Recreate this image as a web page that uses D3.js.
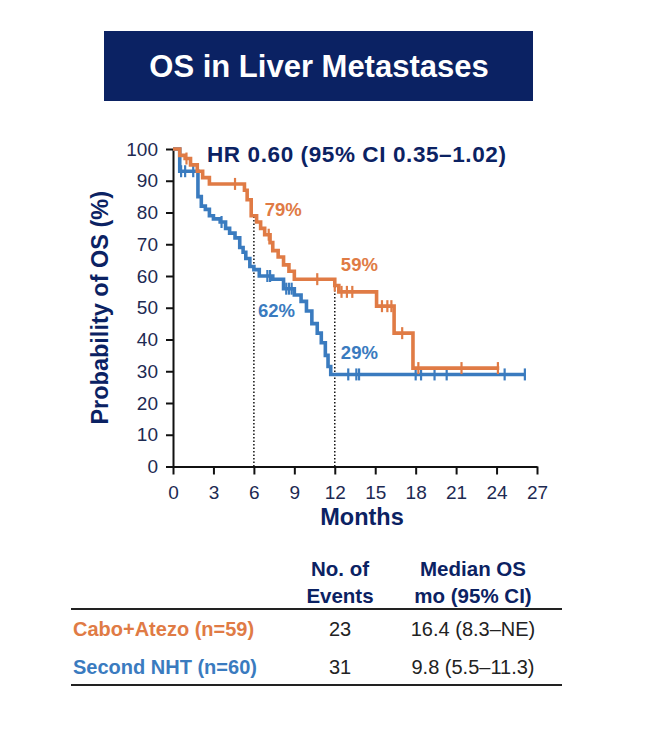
<!DOCTYPE html>
<html>
<head>
<meta charset="utf-8">
<script src="https://cdn.jsdelivr.net/npm/d3@7"></script>
<style>
  body { margin: 0; background: #fff; }
  svg { display: block; font-family: "Liberation Sans", Arial, sans-serif; }
</style>
</head>
<body>
<div id="chart"></div>
<script>
// KM curves: [month, survival %] at each step
const caboSteps = [
  [0, 100], [0.5, 98], [0.9, 97], [1.3, 95], [1.8, 93], [2.2, 91], [2.7, 89],
  [5.3, 87], [5.5, 84], [5.8, 79], [6.2, 77], [6.5, 75], [6.8, 73], [7.2, 70.5],
  [7.4, 68], [7.8, 66], [8.2, 63.5], [8.6, 61.5], [9.0, 59], [12.0, 57], [12.3, 55],
  [15.1, 50.5], [16.4, 42], [17.8, 31], [24.2, 31]
];
const caboCensor = [1.0, 4.6, 7.1, 10.7, 12.0, 12.5, 12.9, 13.3, 15.5, 15.9, 16.2, 17.0, 18.2, 21.4, 24.1];

const nhtSteps = [
  [0, 100], [0.5, 93], [1.85, 85], [2.1, 82], [2.4, 81], [2.7, 79], [3.0, 78],
  [3.5, 77], [3.9, 75], [4.2, 73.5], [4.6, 72], [4.95, 69], [5.2, 67.5], [5.4, 65.5],
  [5.7, 63], [6.0, 62], [6.4, 60], [7.4, 59], [8.2, 56], [9.0, 54], [9.5, 52],
  [9.9, 49], [10.3, 45], [10.7, 42], [11.0, 39], [11.3, 35], [11.5, 31.5], [11.7, 29],
  [26.1, 29]
];
const nhtCensor = [0.6, 0.9, 1.5, 3.6, 7.0, 7.2, 8.4, 8.6, 8.8, 13.0, 13.6, 13.8, 18.0, 18.4, 19.4, 20.3, 24.6, 26.1];

const xTicks = [0, 3, 6, 9, 12, 15, 18, 21, 24, 27];
const yTicks = [0, 10, 20, 30, 40, 50, 60, 70, 80, 90, 100];

// landmark lines + labels
const landmarks = [6, 12];
const pctLabels = [
  { text: '79%', t: 6.8, s: 79, group: 'cabo' },
  { text: '59%', t: 12.45, s: 61.5, group: 'cabo' },
  { text: '62%', t: 6.3, s: 47, group: 'nht' },
  { text: '29%', t: 12.45, s: 34, group: 'nht' }
];

// table rows
const tableArms = ['Cabo+Atezo (n=59)', 'Second NHT (n=60)'];
const tableEvents = ['23', '31'];
const tableMedian = ['16.4 (8.3–NE)', '9.8 (5.5–11.3)'];

const NAVY = '#0b2263';
const ORANGE = '#e07b45';
const BLUE = '#3a7bbf';
const colorOf = { cabo: ORANGE, nht: BLUE };

const width = 672, height = 746;
const svg = d3.select('#chart').append('svg')
  .attr('width', width).attr('height', height);

svg.append('rect').attr('width', width).attr('height', height).attr('fill', '#fff');

// title box
svg.append('rect')
  .attr('x', 104).attr('y', 31).attr('width', 429).attr('height', 70)
  .attr('fill', NAVY);
svg.append('text')
  .attr('x', 319).attr('y', 77)
  .attr('text-anchor', 'middle')
  .attr('fill', '#fff')
  .attr('font-size', 31).attr('font-weight', 'bold')
  .text('OS in Liver Metastases');

const x = d3.scaleLinear().domain([0, 27]).range([173, 537]);
const y = d3.scaleLinear().domain([0, 100]).range([466.5, 149]);

// axes
const xAxis = svg.append('g')
  .attr('transform', `translate(0,${y(0)})`)
  .call(d3.axisBottom(x).tickValues(xTicks).tickSize(8).tickPadding(11).tickSizeOuter(0));
const yAxis = svg.append('g')
  .attr('transform', `translate(${x(0)},0)`)
  .call(d3.axisLeft(y).tickValues(yTicks).tickSize(7).tickPadding(8).tickSizeOuter(0));

[xAxis, yAxis].forEach(ax => {
  ax.select('.domain').attr('stroke', '#111').attr('stroke-width', 2);
  ax.selectAll('.tick line').attr('stroke', '#111').attr('stroke-width', 2);
  ax.selectAll('.tick text')
    .attr('fill', '#1d2a52')
    .attr('font-size', 19)
    .attr('font-family', '"Liberation Sans", Arial, sans-serif');
});

// axis titles
svg.append('text')
  .attr('x', 362).attr('y', 525)
  .attr('text-anchor', 'middle')
  .attr('fill', NAVY).attr('font-size', 23.5).attr('font-weight', 'bold')
  .text('Months');
svg.append('text')
  .attr('transform', `translate(108,${(y(0) + y(100)) / 2}) rotate(-90)`)
  .attr('text-anchor', 'middle')
  .attr('fill', NAVY).attr('font-size', 23.5).attr('font-weight', 'bold')
  .text('Probability of OS (%)');

// HR annotation
svg.append('text')
  .attr('x', 207).attr('y', 162)
  .attr('fill', NAVY).attr('font-size', 22.5).attr('font-weight', 'bold')
  .attr('letter-spacing', 0.6)
  .text('HR 0.60 (95% CI 0.35–1.02)');

// survival value at time t
function survAt(steps, t) {
  let s = steps[0][1];
  steps.forEach(d => { if (d[0] <= t) s = d[1]; });
  return s;
}

// dotted landmark lines (from axis up to the orange curve)
landmarks.forEach(t => {
  svg.append('line')
    .attr('x1', x(t)).attr('x2', x(t))
    .attr('y1', y(0)).attr('y2', y(survAt(caboSteps, t - 0.01)))
    .attr('stroke', '#111').attr('stroke-width', 1.5)
    .attr('stroke-dasharray', '1.5,2');
});

// curves
const line = d3.line()
  .x(d => x(d[0]))
  .y(d => y(d[1]))
  .curve(d3.curveStepAfter);

const series = [
  { key: 'nht', steps: nhtSteps, censor: nhtCensor },
  { key: 'cabo', steps: caboSteps, censor: caboCensor }
];

series.forEach(s => {
  svg.append('path')
    .datum(s.steps)
    .attr('d', line)
    .attr('fill', 'none')
    .attr('stroke', colorOf[s.key])
    .attr('stroke-width', 3.6);

  svg.selectAll(null)
    .data(s.censor)
    .enter()
    .append('line')
    .attr('x1', d => x(d)).attr('x2', d => x(d))
    .attr('y1', d => y(survAt(s.steps, d)) - 6)
    .attr('y2', d => y(survAt(s.steps, d)) + 6)
    .attr('stroke', colorOf[s.key])
    .attr('stroke-width', 2.2);
});

// % labels
svg.selectAll('text.pct')
  .data(pctLabels)
  .enter()
  .append('text')
  .attr('class', 'pct')
  .attr('x', d => x(d.t)).attr('y', d => y(d.s))
  .attr('fill', d => colorOf[d.group])
  .attr('font-size', 18.5).attr('font-weight', 'bold')
  .text(d => d.text);

// table
const colEvents = 340, colMedian = 473;
const head = svg.append('g')
  .attr('fill', NAVY).attr('font-size', 20.5).attr('font-weight', 'bold')
  .attr('text-anchor', 'middle');
head.append('text').attr('x', colEvents).attr('y', 576).text('No. of');
head.append('text').attr('x', colEvents).attr('y', 603).text('Events');
head.append('text').attr('x', colMedian).attr('y', 576).text('Median OS');
head.append('text').attr('x', colMedian).attr('y', 603).text('mo (95% CI)');

[609, 685].forEach(yy => {
  svg.append('line')
    .attr('x1', 71).attr('x2', 562)
    .attr('y1', yy).attr('y2', yy)
    .attr('stroke', '#222').attr('stroke-width', 2);
});

const rowY = [636, 674];
const armColors = [ORANGE, BLUE];
tableArms.forEach((arm, i) => {
  svg.append('text')
    .attr('x', 73).attr('y', rowY[i])
    .attr('fill', armColors[i]).attr('font-size', 20).attr('font-weight', 'bold')
    .text(arm);
  svg.append('text')
    .attr('x', colEvents).attr('y', rowY[i])
    .attr('text-anchor', 'middle')
    .attr('fill', '#222').attr('font-size', 20)
    .text(tableEvents[i]);
  svg.append('text')
    .attr('x', colMedian).attr('y', rowY[i])
    .attr('text-anchor', 'middle')
    .attr('fill', '#222').attr('font-size', 20)
    .text(tableMedian[i]);
});
</script>
</body>
</html>
